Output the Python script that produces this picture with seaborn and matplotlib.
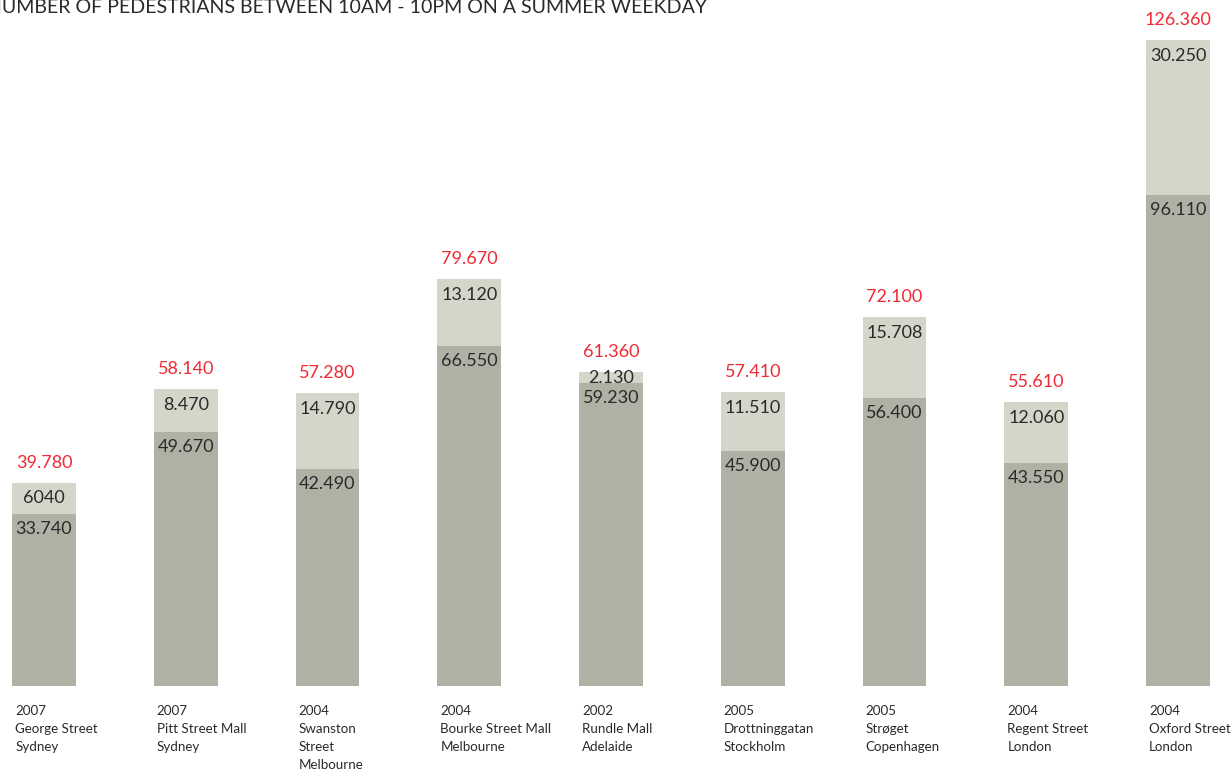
import matplotlib
matplotlib.use("Agg")
import matplotlib.pyplot as plt
import seaborn as sns
import pandas as pd
import numpy as np

streets = ["George Street", "Pitt Street Mall", "Swanston\nStreet", "Bourke Street Mall",
           "Rundle Mall", "Drottninggatan", "Strøget", "Regent Street", "Oxford Street"]
cities = ["Sydney", "Sydney", "Melbourne", "Melbourne", "Adelaide", "Stockholm",
          "Copenhagen", "London", "London"]
years = ["2007", "2007", "2004", "2004", "2002", "2005", "2005", "2004", "2004"]
lower = [33740, 49670, 42490, 66550, 59230, 45900, 56400, 43550, 96110]
upper = [6040, 8470, 14790, 13120, 2130, 11510, 15708, 12060, 30250]
totals = [39780, 58140, 57280, 79670, 61360, 57410, 72100, 55610, 126360]
lower_labels = ["33.740", "49.670", "42.490", "66.550", "59.230", "45.900", "56.400", "43.550", "96.110"]
upper_labels = ["6040", "8.470", "14.790", "13.120", "2.130", "11.510", "15.708", "12.060", "30.250"]
total_labels = ["39.780", "58.140", "57.280", "79.670", "61.360", "57.410", "72.100", "55.610", "126.360"]
title = "NUMBER OF PEDESTRIANS BETWEEN 10AM - 10PM ON A SUMMER WEEKDAY"

DARK = "#b0b1a5"
LIGHT = "#d5d6ca"
RED = "#ee2a35"
TXT = "#2a2a2a"

sns.set_theme(style="white")
plt.rcParams["font.family"] = ["Lato", "DejaVu Sans"]

W, H = 1231, 769
fig = plt.figure(figsize=(W / 100, H / 100), dpi=100)
base_px = 686
ax = fig.add_axes([0, (H - base_px) / H, 1, base_px / H])

df = pd.DataFrame({"street": streets, "lower": lower, "upper": upper})
df["stack"] = df["lower"] + df["upper"]
order = list(range(len(streets)))
df["pos"] = order

sns.barplot(data=df, x="pos", y="stack", color=LIGHT, width=0.45, ax=ax,
            saturation=1, order=order, native_scale=True, linewidth=0, edgecolor="none")
sns.barplot(data=df, x="pos", y="lower", color=DARK, width=0.45, ax=ax,
            saturation=1, order=order, native_scale=True, linewidth=0, edgecolor="none")

step = 141.75
top_val = 126360 * base_px / (base_px - 40)
ax.set_ylim(0, top_val)
ax.set_xlim(-44 / step, (W - 44) / step)
ax.axis("off")

px_per_unit = base_px / top_val
pt = 72 / 100  # points per pixel

for i in range(len(streets)):
    lo = lower[i]
    st = lower[i] + upper[i]
    ax.annotate(lower_labels[i], (i, lo), xytext=(0, -15 * pt), textcoords="offset points",
                ha="center", va="center", fontsize=13, color=TXT)
    seg_px = upper[i] * px_per_unit
    off = min(16, seg_px / 2)
    ax.annotate(upper_labels[i], (i, st), xytext=(0, -off * pt), textcoords="offset points",
                ha="center", va="center", fontsize=13, color=TXT)
    ax.annotate(total_labels[i], (i, st), xytext=(0, 20 * pt), textcoords="offset points",
                ha="center", va="center", fontsize=13, color=RED)
    ax.annotate(years[i] + "\n" + streets[i] + "\n" + cities[i], (i - 0.225, 0),
                xytext=(3 * pt, -19 * pt), textcoords="offset points",
                ha="left", va="top", fontsize=9.6, color=TXT, linespacing=1.6,
                annotation_clip=False)

fig.text(-13 / W, 1 - 13 / H, title, ha="left", va="baseline", fontsize=14.1,
         color=TXT, fontweight="normal")

fig.savefig("out.png", dpi=100)
